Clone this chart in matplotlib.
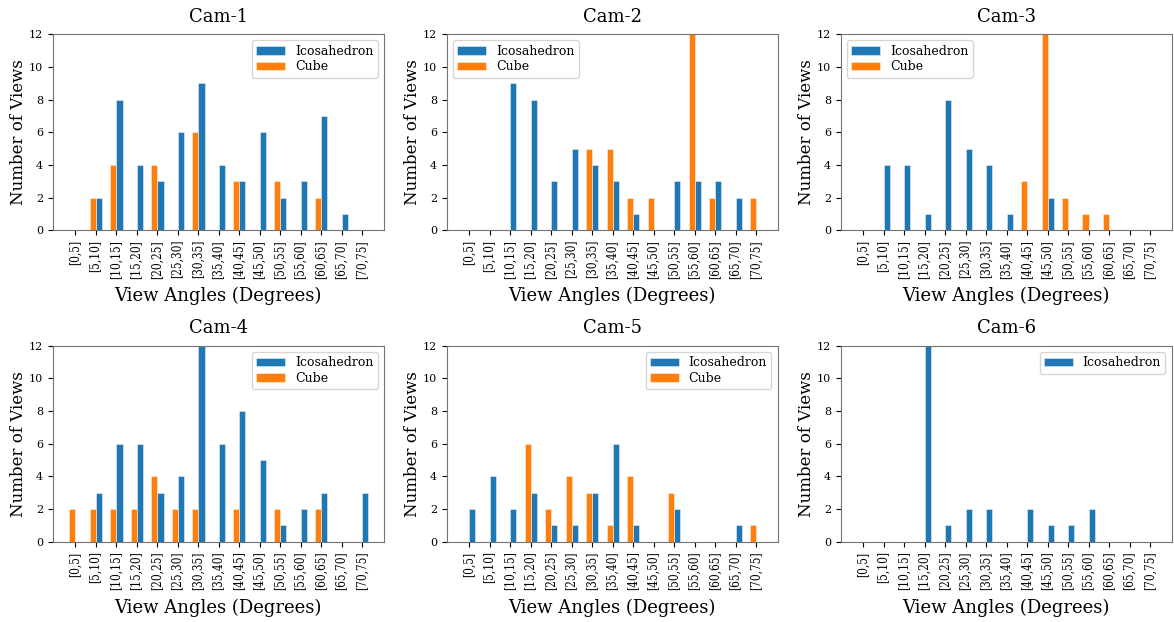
import matplotlib
matplotlib.use("Agg")
import matplotlib.pyplot as plt
import numpy as np

plt.rcParams["font.family"] = ["DejaVu Serif"]

bins = ["[0,5]", "[5,10]", "[10,15]", "[15,20]", "[20,25]", "[25,30]", "[30,35]",
        "[35,40]", "[40,45]", "[45,50]", "[50,55]", "[55,60]", "[60,65]", "[65,70]", "[70,75]"]

# view counts per angle bin
cam1_ico  = [0, 2, 8, 4, 3, 6, 9, 4, 3, 6, 2, 3, 7, 1, 0]
cam1_cube = [0, 2, 4, 0, 4, 0, 6, 0, 3, 0, 3, 0, 2, 0, 0]
cam2_ico  = [0, 0, 9, 8, 3, 5, 4, 3, 1, 0, 3, 3, 3, 2, 0]
cam2_cube = [0, 0, 0, 0, 0, 0, 5, 5, 2, 2, 0, 12, 2, 0, 2]
cam3_ico  = [0, 4, 4, 1, 8, 5, 4, 1, 0, 2, 0, 0, 0, 0, 0]
cam3_cube = [0, 0, 0, 0, 0, 0, 0, 0, 3, 12, 2, 1, 1, 0, 0]
cam4_ico  = [0, 3, 6, 6, 3, 4, 12, 6, 8, 5, 1, 2, 3, 0, 3]
cam4_cube = [2, 2, 2, 2, 4, 2, 2, 0, 2, 0, 2, 0, 2, 0, 0]
cam5_ico  = [2, 4, 2, 3, 1, 1, 3, 6, 1, 0, 2, 0, 0, 1, 0]
cam5_cube = [0, 0, 0, 6, 2, 4, 3, 1, 4, 0, 3, 0, 0, 0, 1]
cam6_ico  = [0, 0, 0, 12, 1, 2, 2, 0, 2, 1, 1, 2, 0, 0, 0]

panels = [
    ("Cam-1", cam1_ico, cam1_cube, "upper right"),
    ("Cam-2", cam2_ico, cam2_cube, "upper left"),
    ("Cam-3", cam3_ico, cam3_cube, "upper left"),
    ("Cam-4", cam4_ico, cam4_cube, "upper right"),
    ("Cam-5", cam5_ico, cam5_cube, "upper right"),
    ("Cam-6", cam6_ico, None,      "upper right"),
]

BLUE, ORANGE = "#1f77b4", "#ff7f0e"
w = 0.3
x = np.arange(len(bins))

fig, axes = plt.subplots(2, 3, figsize=(11.74, 6.22), dpi=100)
fig.subplots_adjust(left=0.045, right=0.998, top=0.945, bottom=0.129,
                    wspace=0.19, hspace=0.59)

for ax, (title, ico, cube, loc) in zip(axes.flat, panels):
    ax.bar(x + w / 2, ico, w, color=BLUE, edgecolor=(1, 1, 1, 0.5),
           linewidth=0.6, label="Icosahedron")
    if cube is not None:
        ax.bar(x - w / 2, cube, w, color=ORANGE, edgecolor=(1, 1, 1, 0.5),
               linewidth=0.6, label="Cube")
    ax.set_title(title, fontsize=13, pad=9)
    ax.set_xticks(x)
    ax.set_xticklabels(bins, rotation=90, fontsize=8.5, fontstretch="condensed")
    ax.set_yticks(range(0, 13, 2))
    ax.tick_params(axis="y", labelsize=8)
    ax.set_xlim(-1.1, 15.05)
    ax.set_ylim(0, 12)
    ax.set_xlabel("View Angles (Degrees)", fontsize=13, labelpad=6)
    ax.set_ylabel("Number of Views", fontsize=12, labelpad=1)
    for s in ax.spines.values():
        s.set_color("0.45")
    ax.legend(loc=loc, fontsize=9, labelspacing=0.2, borderpad=0.35,
              handlelength=2.3)

fig.savefig("out.png", dpi=100)
